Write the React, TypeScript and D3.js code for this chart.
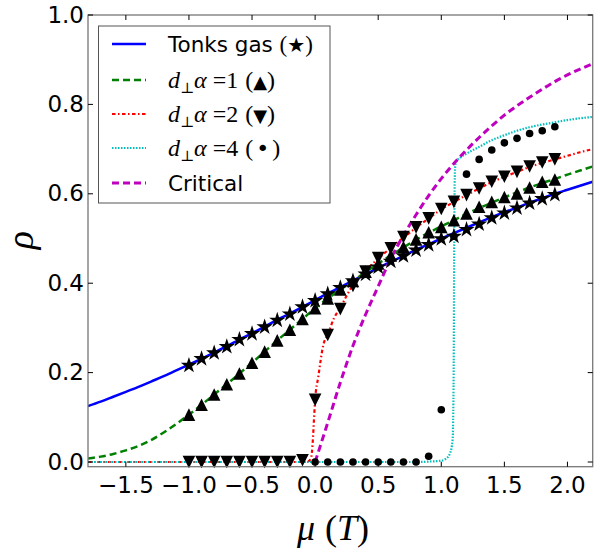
import React from 'react'
import * as d3 from 'd3'

// Tonks gas (blue solid line)
const tonksMu = [-1.8, -1.7, -1.6, -1.5, -1.4, -1.3, -1.2, -1.1, -1.0, -0.9, -0.8, -0.7, -0.6, -0.5, -0.4, -0.3, -0.2, -0.1, 0.0, 0.1, 0.2, 0.3, 0.4, 0.5, 0.6, 0.7, 0.8, 0.9, 1.0, 1.1, 1.2, 1.3, 1.4, 1.5, 1.6, 1.7, 1.8, 1.9, 2.0, 2.1, 2.2]
const tonksRho = [0.125, 0.135, 0.146, 0.157, 0.168, 0.180, 0.192, 0.205, 0.218, 0.231, 0.245, 0.259, 0.274, 0.288, 0.303, 0.318, 0.332, 0.347, 0.362, 0.377, 0.391, 0.406, 0.420, 0.434, 0.448, 0.461, 0.475, 0.487, 0.500, 0.512, 0.524, 0.536, 0.548, 0.559, 0.569, 0.580, 0.590, 0.600, 0.609, 0.618, 0.627]

// d_perp alpha = 1 (green dashed)
const d1Mu = tonksMu
const d1Rho = [0.008, 0.012, 0.018, 0.026, 0.036, 0.049, 0.066, 0.085, 0.106, 0.128, 0.151, 0.174, 0.198, 0.222, 0.247, 0.272, 0.296, 0.320, 0.344, 0.366, 0.386, 0.405, 0.425, 0.444, 0.462, 0.480, 0.497, 0.513, 0.527, 0.541, 0.555, 0.568, 0.580, 0.592, 0.603, 0.614, 0.624, 0.633, 0.643, 0.652, 0.661]

// d_perp alpha = 2 (red dash-dot)
const d2Mu = [-1.8, -0.1, -0.05, -0.03, -0.02, -0.01, 0.0, 0.025, 0.065, 0.1, 0.15, 0.2, 0.25, 0.3, 0.4, 0.5, 0.6, 0.7, 0.8, 0.9, 1.0, 1.1, 1.2, 1.3, 1.4, 1.5, 1.6, 1.7, 1.8, 1.9, 2.0, 2.1, 2.2]
const d2Rho = [0, 0, 0.002, 0.012, 0.04, 0.09, 0.139, 0.19, 0.262, 0.285, 0.322, 0.345, 0.372, 0.396, 0.428, 0.455, 0.479, 0.502, 0.524, 0.545, 0.565, 0.582, 0.597, 0.612, 0.626, 0.638, 0.649, 0.660, 0.669, 0.677, 0.685, 0.693, 0.700]

// d_perp alpha = 4 (cyan dotted)
const d4Mu = [-1.8, 0.8, 0.9, 1.0, 1.04, 1.07, 1.09, 1.098, 1.102, 1.106, 1.11, 1.117, 1.15, 1.2, 1.3, 1.4, 1.5, 1.6, 1.7, 1.8, 1.9, 2.0, 2.1, 2.2]
const d4Rho = [0, 0, 0.001, 0.003, 0.008, 0.02, 0.05, 0.2, 0.45, 0.62, 0.66, 0.672, 0.681, 0.69, 0.705, 0.72, 0.731, 0.741, 0.749, 0.755, 0.76, 0.765, 0.769, 0.772]

// Critical (magenta dashed)
const critMu = [0.0, 0.1, 0.2, 0.3, 0.4, 0.5, 0.6, 0.7, 0.8, 0.9, 1.0, 1.1, 1.2, 1.3, 1.4, 1.5, 1.6, 1.7, 1.8, 1.9, 2.0, 2.1, 2.2]
const critRho = [0.0, 0.088, 0.178, 0.260, 0.330, 0.393, 0.455, 0.507, 0.553, 0.596, 0.634, 0.668, 0.698, 0.726, 0.752, 0.776, 0.797, 0.816, 0.834, 0.851, 0.866, 0.879, 0.891]

// simulation points
const starMu = [-1.0, -0.9, -0.8, -0.7, -0.6, -0.5, -0.4, -0.3, -0.2, -0.1, 0.0, 0.1, 0.2, 0.3, 0.4, 0.5, 0.6, 0.7, 0.8, 0.9, 1.0, 1.1, 1.2, 1.3, 1.4, 1.5, 1.6, 1.7, 1.8, 1.9]
const starRho = [0.216, 0.231, 0.244, 0.258, 0.274, 0.287, 0.302, 0.317, 0.331, 0.347, 0.361, 0.376, 0.390, 0.405, 0.420, 0.436, 0.449, 0.461, 0.474, 0.486, 0.499, 0.505, 0.520, 0.532, 0.546, 0.557, 0.568, 0.579, 0.589, 0.598]
const upMu = starMu
const upRho = [0.106, 0.128, 0.151, 0.174, 0.198, 0.222, 0.247, 0.272, 0.296, 0.320, 0.344, 0.366, 0.386, 0.405, 0.426, 0.444, 0.462, 0.481, 0.498, 0.514, 0.526, 0.541, 0.556, 0.571, 0.582, 0.593, 0.601, 0.614, 0.627, 0.632]
const downMu = starMu
const downRho = [0, 0, 0, 0, 0, 0, 0, 0, 0, 0.004, 0.139, 0.284, 0.342, 0.394, 0.426, 0.456, 0.478, 0.503, 0.525, 0.545, 0.566, 0.582, 0.597, 0.612, 0.627, 0.638, 0.649, 0.661, 0.670, 0.677]
const dotMu = [0.0, 0.1, 0.2, 0.3, 0.4, 0.5, 0.6, 0.7, 0.8, 0.9, 1.0, 1.1, 1.2, 1.3, 1.4, 1.5, 1.6, 1.7, 1.8, 1.9]
const dotRho = [0, 0, 0, 0, 0, 0, 0, 0, 0, 0.013, 0.117, 0.505, 0.644, 0.677, 0.698, 0.714, 0.724, 0.735, 0.741, 0.750]

const xTicks = [-1.5, -1.0, -0.5, 0.0, 0.5, 1.0, 1.5, 2.0]
const yTicks = [0.0, 0.2, 0.4, 0.6, 0.8, 1.0]

const W = 606
const H = 552
const L = 88, R = 592.7, T = 15, B = 466.7

const zip = (a: number[], b: number[]) => a.map((v, i) => [v, b[i]] as [number, number])

export default function App() {
  const x = d3.scaleLinear().domain([-1.8, 2.2]).range([L, R])
  const y = d3.scaleLinear().domain([-0.0105, 1.0]).range([B, T])
  const line = d3.line<[number, number]>()
    .x(d => x(d[0]))
    .y(d => y(d[1]))
    .curve(d3.curveMonotoneX)

  const fmt = (v: number) => v.toFixed(1).replace('-', '\u2212')
  const star = d3.symbol(d3.symbolStar, 82)() as string
  const s = 6.3
  const up = `M0,${-s}L${s},${s}L${-s},${s}Z`
  const down = `M0,${s}L${s},${-s}L${-s},${-s}Z`

  const curves = [
    { data: zip(tonksMu, tonksRho), color: '#0000ff', dash: null, w: 2.5 },
    { data: zip(d1Mu, d1Rho), color: '#008000', dash: '7,4', w: 2.5 },
    { data: zip(d2Mu, d2Rho), color: '#ff0000', dash: '3.5,2.5,1.5,2.5', w: 2.2 },
    { data: zip(d4Mu, d4Rho), color: '#00bfbf', dash: '1.5,1.5', w: 2.2 },
    { data: zip(critMu, critRho), color: '#bf00bf', dash: '7,4', w: 3 },
  ]

  const legendRows = [80, 114, 148]
  const legendVals = ['1', '2', '4']
  const legendSyms = ['\u25B2', '\u25BC', '\u2022']
  const mathFont = 'Liberation Serif, DejaVu Serif, serif'

  return (
    <svg width={W} height={H} style={{ position: 'absolute', left: 0, top: 0, background: '#fff' }}>
      <defs>
        <clipPath id="plotclip">
          <rect x={L} y={T} width={R - L} height={B - T} />
        </clipPath>
      </defs>
      <rect x={0} y={0} width={W} height={H} fill="#fff" />
      <g clipPath="url(#plotclip)">
        {curves.map((c, i) => (
          <path key={i} d={line(c.data) as string} fill="none" stroke={c.color}
            strokeWidth={c.w} strokeDasharray={c.dash ?? undefined} />
        ))}
      </g>
      <g fill="#000">
        {zip(starMu, starRho).map((d, i) => (
          <path key={'s' + i} d={star} transform={`translate(${x(d[0])},${y(d[1])})`} />
        ))}
        {zip(upMu, upRho).map((d, i) => (
          <path key={'u' + i} d={up} transform={`translate(${x(d[0])},${y(d[1])})`} />
        ))}
        {zip(downMu, downRho).map((d, i) => (
          <path key={'d' + i} d={down} transform={`translate(${x(d[0])},${y(d[1])})`} />
        ))}
        {zip(dotMu, dotRho).map((d, i) => (
          <circle key={'c' + i} cx={x(d[0])} cy={y(d[1])} r={3.8} />
        ))}
      </g>

      <rect x={L} y={T} width={R - L} height={B - T} fill="none" stroke="#777" strokeWidth={1.3} />
      <g stroke="#000" strokeWidth={1}>
        {xTicks.map(t => (
          <g key={'xt' + t}>
            <line x1={x(t)} x2={x(t)} y1={B} y2={B - 5} />
            <line x1={x(t)} x2={x(t)} y1={T} y2={T + 5} />
          </g>
        ))}
        {yTicks.map(t => (
          <g key={'yt' + t}>
            <line x1={L} x2={L + 5} y1={y(t)} y2={y(t)} />
            <line x1={R} x2={R - 5} y1={y(t)} y2={y(t)} />
          </g>
        ))}
      </g>
      <g fontFamily="DejaVu Sans" fontSize={23} fill="#000">
        {xTicks.map(t => (
          <text key={'xl' + t} x={x(t)} y={493} textAnchor="middle">{fmt(t)}</text>
        ))}
        {yTicks.map(t => (
          <text key={'yl' + t} x={84} y={y(t) + 7.5} textAnchor="end">{fmt(t)}</text>
        ))}
      </g>

      <text x={333} y={540} textAnchor="middle" fontFamily={mathFont} fontSize={36}>
        <tspan fontStyle="italic">μ</tspan>
        <tspan dx={10}>(</tspan>
        <tspan fontStyle="italic">T</tspan>
        <tspan>)</tspan>
      </text>
      <text transform="translate(33,240) rotate(-90)" textAnchor="middle" fontFamily={mathFont}
        fontSize={38} fontStyle="italic">ρ</text>

      <g>
        <rect x={98.5} y={26} width={231.5} height={177} fill="#fff" stroke="#555" strokeWidth={1} />
        {curves.map((c, i) => {
          const ry = [44, 80, 114, 148, 183][i]
          return (
            <line key={'ll' + i} x1={112} x2={146} y1={ry} y2={ry} stroke={c.color}
              strokeWidth={c.w} strokeDasharray={c.dash ?? undefined} />
          )
        })}
        <text x={168} y={51.5} fontFamily="DejaVu Sans" fontSize={21.5}>
          Tonks gas <tspan fontFamily={mathFont} fontSize={23}>(</tspan>
          <tspan fontSize={20}>★</tspan>
          <tspan fontFamily={mathFont} fontSize={23}>)</tspan>
        </text>
        {legendRows.map((ry, i) => (
          <text key={'lt' + i} x={168} y={ry + 7.5} fontFamily={mathFont} fontSize={24}>
            <tspan fontStyle="italic">d</tspan>
            <tspan fontSize={15} dy={5}>⊥</tspan>
            <tspan fontStyle="italic" dy={-5}>α</tspan>
            <tspan dx={6}>=</tspan>
            <tspan>{legendVals[i]}</tspan>
            <tspan dx={7}>(</tspan>
            <tspan fontFamily="DejaVu Sans" fontSize={i === 2 ? 22 : 18} dx={i === 2 ? 3 : 0}>{legendSyms[i]}</tspan>
            <tspan dx={i === 2 ? 3 : 0}>)</tspan>
          </text>
        ))}
        <text x={168} y={190.5} fontFamily="DejaVu Sans" fontSize={21.5}>Critical</text>
      </g>
    </svg>
  )
}
